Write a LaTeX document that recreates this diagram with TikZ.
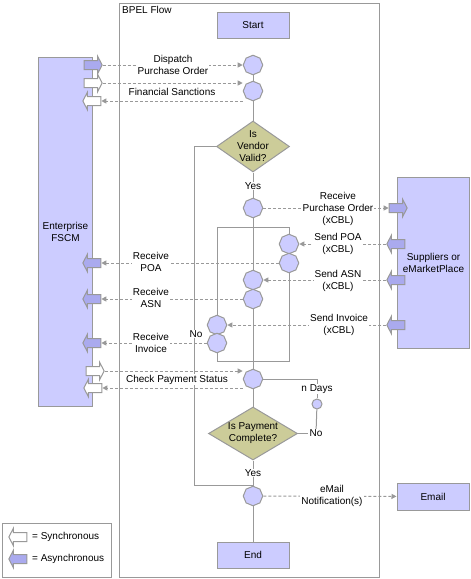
\documentclass[tikz,border=0pt]{standalone}
\usepackage{fontspec}
\setmainfont{Liberation Sans}
\usetikzlibrary{shapes.geometric,shapes.arrows,arrows.meta}

\begin{document}
\begin{tikzpicture}[x=1pt,y=1pt,yscale=-1,
    every node/.style={font=\fontsize{10}{12}\selectfont},
    panel/.style={draw={rgb, 255:red, 153; green, 153; blue, 153 }, fill={rgb, 255:red, 204; green, 204; blue, 255 }, line width=1, inner sep=0, align=center},
    stepnode/.style={regular polygon, regular polygon sides=8, regular polygon rotate=22.5, draw={rgb, 255:red, 153; green, 153; blue, 153 }, fill={rgb, 255:red, 204; green, 204; blue, 255 }, line width=1, minimum size=19.5, inner sep=0},
    decision/.style={diamond, draw={rgb, 255:red, 153; green, 153; blue, 153 }, fill={rgb, 255:red, 204; green, 204; blue, 153 }, line width=1, inner sep=0},
    txt/.style={align=center, inner sep=1},
    lbl/.style={align=center, inner sep=1, fill=white},
    flow/.style={draw={rgb, 255:red, 153; green, 153; blue, 153 }, line width=1},
    msg/.style={draw={rgb, 255:red, 153; green, 153; blue, 153 }, line width=1, dash pattern=on 3pt off 2pt, -{Triangle[length=5pt,width=5pt]}},
    port/.style={single arrow, draw={rgb, 255:red, 153; green, 153; blue, 153 }, line width=1, inner xsep=0, inner ysep=4, single arrow head extend=4, single arrow tip angle=125, minimum height=18},
    async/.style={port, fill={rgb, 255:red, 170; green, 170; blue, 238 }},
    sync/.style={port, fill=white},
    toleft/.style={shape border rotate=180}
]
    \useasboundingbox (0,0) rectangle (471,579);

    %Shape: BPEL frame
    \node[draw={rgb, 255:red, 153; green, 153; blue, 153 }, line width=1, inner sep=0, minimum width=260, minimum height=574, anchor=north west] (bpel) at (119,3) {};
    \node[anchor=west, inner sep=0] (bpelTitle) at (122,10) {BPEL Flow};

    %Shape: partners
    \node[panel, minimum width=54, minimum height=349, anchor=north west] (fscm) at (38,57) {Enterprise\\FSCM};
    \node[panel, minimum width=72, minimum height=171, anchor=north west] (supp) at (397,177) {Suppliers or\\eMarketPlace};
    \node[panel, minimum width=72, minimum height=27] (email) at (433,496.5) {Email};

    %Shape: parallel block
    \coordinate (forkTL) at (217,227);
    \coordinate (joinBR) at (289,361);
    \draw[flow] (forkTL) rectangle (joinBR);

    %Shape: activities
    \node[panel, minimum width=72, minimum height=26] (startbox) at (253,25) {Start};
    \node[stepnode] (dispatch) at (253,65) {};
    \node[stepnode] (sanction) at (253,91) {};
    \node[decision, minimum width=73, minimum height=51] (vendor) at (253,146.5) {};
    \node[stepnode] (recvPO) at (253,208) {};
    \node[stepnode] (poaIn) at (289,244) {};
    \node[stepnode] (poaOut) at (289,263) {};
    \node[stepnode] (asnIn) at (253,280) {};
    \node[stepnode] (asnOut) at (253,299) {};
    \node[stepnode] (invIn) at (217,325) {};
    \node[stepnode] (invOut) at (217,343) {};
    \node[stepnode] (pay) at (253,379) {};
    \node[stepnode, minimum size=10] (wait) at (317,404) {};
    \node[decision, minimum width=89, minimum height=53] (complete) at (253,433.5) {};
    \node[stepnode] (notify) at (253,496) {};
    \node[panel, minimum width=72, minimum height=26] (endbox) at (253,555) {End};

    % Text Node
    \node[txt] (vendorText) at (vendor) {Is\\Vendor\\Valid?};
    % Text Node
    \node[txt] (completeText) at (complete) {Is Payment\\Complete?};
    % Text Node
    \node[txt] (noPay) at (316,433.5) {No};

    %Straight Lines: process flow
    \draw[flow] (dispatch) -- (sanction);
    \draw[flow] (sanction) -- (vendor);
    \draw[flow] (vendor) -- (recvPO);
    \draw[flow] (recvPO) -- (asnIn);
    \draw[flow] (asnOut) -- (pay);
    \draw[flow] (pay) -- (complete);
    \draw[flow] (complete) -- (notify);
    \draw[flow] (notify) -- (endbox);
    \draw[flow] (vendor.west) -- ++(-22,0) |- (notify.north);
    \draw[flow] (pay.east) -| (wait.north);
    \draw[flow] (wait) -- (noPay);
    \draw[flow] (complete.east) -- (noPay.west);

    %Shape: ports
    \node[async] (dpo) at (92,65) {};
    \node[sync] (fsReq) at (92,83) {};
    \node[sync, toleft] (fsRes) at (93,101) {};
    \node[async, toleft] (rpoa) at (93,263) {};
    \node[async, toleft] (rasn) at (93,299) {};
    \node[async, toleft] (rinv) at (93,343) {};
    \node[sync] (cpReq) at (94,371) {};
    \node[sync, toleft] (cpRes) at (94,388) {};
    \node[async] (rpo) at (397,208) {};
    \node[async, toleft] (spoa) at (397,244) {};
    \node[async, toleft] (sasn) at (397,280) {};
    \node[async, toleft] (sinv) at (397,325) {};

    %Straight Lines: messages
    \draw[msg] (dpo.tip) -- (dispatch);
    \draw[msg] (fsReq.tip) -- (fsReq.tip -| sanction.west);
    \draw[msg] (fsRes -| sanction.west) -- (fsRes.tail);
    \draw[msg] (recvPO) -- (rpo.tail);
    \draw[msg] (spoa.tip) -- (poaIn);
    \draw[msg] (sasn.tip) -- (asnIn);
    \draw[msg] (sinv.tip) -- (invIn);
    \draw[msg] (poaOut) -- (rpoa.tail);
    \draw[msg] (asnOut) -- (rasn.tail);
    \draw[msg] (invOut) -- (rinv.tail);
    \draw[msg] (cpReq.tip) -- (cpReq.tip -| pay.west);
    \draw[msg] (cpRes -| pay.west) -- (cpRes.tail);
    \draw[msg] (notify) -- (email);

    % Text Node
    \node[lbl] (dpoLbl) at (173,65) {Dispatch\\Purchase Order};
    \node[txt] (fsLbl) at (172,92) {Financial Sanctions};
    \node[lbl] (rpoLbl) at (338,209) {Receive\\Purchase Order\\(xCBL)};
    \node[lbl] (spoaLbl) at (338,244) {Send POA\\(xCBL)};
    \node[lbl] (sasnLbl) at (338,280.5) {Send ASN\\(xCBL)};
    \node[lbl] (sinvLbl) at (339,325) {Send Invoice\\(xCBL)};
    \node[lbl] (rpoaLbl) at (151,262) {Receive\\POA};
    \node[lbl] (rasnLbl) at (151,298) {Receive\\ASN};
    \node[lbl] (rinvLbl) at (151,343) {Receive\\Invoice};
    \node[lbl] (cpLbl) at (177,379.5) {Check Payment Status};
    \node[lbl] (yesVendor) at (253,186) {Yes};
    \node[lbl] (noVendor) at (196,334) {No};
    \node[lbl] (nDays) at (317,389) {n Days};
    \node[lbl] (yesPay) at (253,473) {Yes};
    \node[lbl] (mailLbl) at (332,496) {eMail\\Notification(s)};

    %Shape: legend
    \node[draw={rgb, 255:red, 153; green, 153; blue, 153 }, line width=1, inner sep=0, minimum width=109, minimum height=54, anchor=north west] (legend) at (2,523) {};
    \node[sync, toleft] (legSync) at (19,537) {};
    \node[async, toleft] (legAsync) at (19,559) {};
    \node[anchor=west, inner sep=0] (legSyncText) at (32,537) {= Synchronous};
    \node[anchor=west, inner sep=0] (legAsyncText) at (32,559) {= Asynchronous};

\end{tikzpicture}
\end{document}
